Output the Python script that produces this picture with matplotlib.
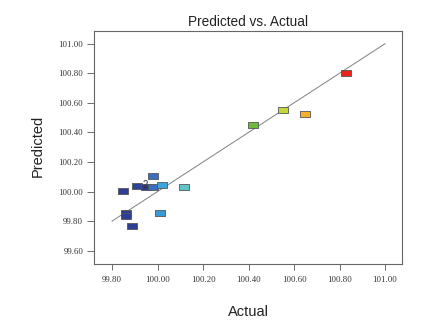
import matplotlib
matplotlib.use("Agg")
import matplotlib.pyplot as plt
import numpy as np

actual = [99.85, 99.908, 99.948, 99.98, 99.98, 100.02, 100.115, 100.011,
          99.86, 99.86, 99.889, 100.42, 100.55, 100.65, 100.83]
predicted = [100.004, 100.04, 100.028, 100.105, 100.028, 100.044, 100.028, 99.857,
             99.853, 99.837, 99.765, 100.448, 100.554, 100.522, 100.804]
colors = ["#2c3f94", "#2c4596", "#2b3d8c", "#3a6fc0", "#3a6fc0", "#3ca3dc", "#5cc6c8", "#3a9ad8",
          "#2c3f94", "#2c3f94", "#2c3f94", "#6dbb3a", "#c6d634", "#f2b02c", "#e8231c"]
xticks = [99.80, 100.00, 100.20, 100.40, 100.60, 100.80, 101.00]
yticks = [99.60, 99.80, 100.00, 100.20, 100.40, 100.60, 100.80, 101.00]
line_pts = [99.80, 101.00]

fig = plt.figure(figsize=(4.35, 3.23), dpi=100)
ax = fig.add_axes([94.3/435, 1 - 264/323, (402.3-94.3)/435, (264-30.7)/323])

ax.plot(line_pts, line_pts, color="#808080", lw=0.7, zorder=1)

rect = [(-1.4, -1), (1.4, -1), (1.4, 1), (-1.4, 1), (-1.4, -1)]
for x, y, c in zip(actual, predicted, colors):
    ax.plot([x], [y], marker=rect, ms=7, mfc=c, mec="#555555", mew=0.6, ls="none", zorder=3)

ax.text(99.948, 100.028 + 0.018, "2", fontsize=7, ha="center", va="center",
        color="#333333", family="Liberation Sans", zorder=4)

ax.set_xlim(99.722, 101.076)
ax.set_ylim(99.51, 101.088)
ax.set_xticks(xticks)
ax.set_xticklabels([f"{v:.2f}" for v in xticks])
ax.set_yticks(yticks)
ax.set_yticklabels([f"{v:.2f}" for v in yticks])

for lab in ax.get_xticklabels() + ax.get_yticklabels():
    lab.set_family("Liberation Serif")
    lab.set_fontsize(6.3)
    lab.set_color("#333333")
ax.tick_params(axis="y", direction="out", length=5, width=0.6, color="#555555", pad=3)
ax.tick_params(axis="x", direction="out", length=4, width=0.6, color="#555555", pad=5)
for s in ax.spines.values():
    s.set_color("#666666")
    s.set_linewidth(0.8)

fig.text(248.3/435, 1 - 21.7/323, "Predicted vs. Actual", ha="center", va="center",
         fontsize=9.8, family="Liberation Sans", color="#222222")
fig.text(248.3/435, 1 - 312/323, "Actual", ha="center", va="center",
         fontsize=10.5, family="Liberation Sans", color="#222222")
fig.text(37.7/435, 1 - 146/323, "Predicted", ha="center", va="center", rotation=90,
         fontsize=10.5, family="Liberation Sans", color="#222222")

fig.savefig("out.png", dpi=100)
